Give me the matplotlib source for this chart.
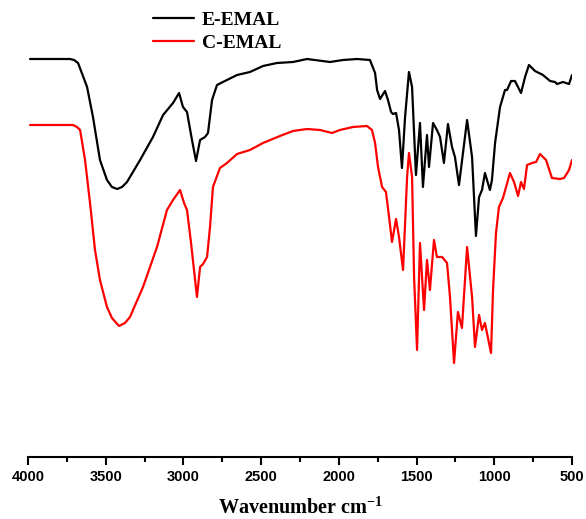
import matplotlib
matplotlib.use("Agg")
import matplotlib.pyplot as plt
from matplotlib.ticker import MultipleLocator

# FTIR spectra, wavenumber (cm-1) vs transmittance (arbitrary units, offset)
e_wn = [3987, 3730, 3704, 3678, 3620, 3582, 3537, 3492, 3460, 3427, 3395, 3363, 3279, 3196, 3131,
        3067, 3028, 3003, 2977, 2945, 2919, 2893, 2861, 2842, 2816, 2784, 2720,
        2655, 2572, 2488, 2398, 2295, 2205, 2057, 1973, 1883, 1800, 1767, 1754,
        1735, 1703, 1684, 1664, 1652, 1632, 1613, 1594, 1574, 1549, 1529, 1516,
        1504, 1478, 1459, 1433, 1420, 1394, 1369, 1349, 1324, 1298, 1272, 1253,
        1227, 1175, 1143, 1118, 1098, 1079, 1060, 1028, 1015, 995, 963, 931,
        918, 892, 867, 828, 802, 777, 738, 687, 641, 609, 596, 558, 519, 500]
e_t = [99.5, 99.5, 99.25, 98.5, 92.5, 85.0, 74.25, 69.25, 67.5, 67.0, 67.5, 68.75, 74.25, 80.0, 85.5,
       88.5, 91.0, 87.5, 86.25, 79.25, 74.0, 79.25, 80.0, 81.0, 89.25, 93.0, 94.25,
       95.5, 96.25, 97.75, 98.5, 98.75, 99.5, 98.75, 99.25, 99.5, 99.25, 96.0, 91.75,
       89.5, 91.5, 89.25, 86.25, 85.75, 86.0, 81.75, 72.25, 85.0, 96.25, 92.5, 81.0,
       70.5, 83.5, 67.5, 80.5, 72.5, 83.5, 81.75, 80.0, 73.5, 83.25, 77.5, 75.0,
       68.0, 84.25, 75.0, 55.25, 65.0, 66.75, 71.0, 66.75, 69.25, 78.5, 87.5, 91.75,
       91.75, 94.0, 94.0, 91.0, 95.0, 98.0, 96.5, 95.5, 94.0, 93.75, 93.25, 93.75, 93.25, 95.5]

c_wn = [3987, 3710, 3685, 3665, 3633, 3601, 3569, 3537, 3492, 3460, 3415, 3376, 3344, 3260, 3170,
        3106, 3067, 3022, 2996, 2977, 2951, 2913, 2893, 2874, 2848, 2829, 2810,
        2765, 2720, 2655, 2572, 2488, 2379, 2295, 2205, 2121, 2044, 1993, 1909,
        1819, 1787, 1767, 1748, 1722, 1697, 1677, 1658, 1632, 1613, 1587, 1561,
        1549, 1529, 1516, 1497, 1478, 1452, 1433, 1414, 1388, 1369, 1336, 1304,
        1285, 1259, 1234, 1208, 1175, 1143, 1124, 1098, 1079, 1060, 1047, 1021,
        1008, 989, 970, 944, 899, 873, 847, 828, 809, 789, 757, 731, 706, 667,
        629, 577, 551, 519, 500]
c_t = [83.0, 83.0, 82.5, 81.75, 74.25, 63.5, 51.75, 44.25, 37.5, 34.75, 32.75, 33.5, 35.0, 42.5, 52.5,
       61.75, 64.25, 66.75, 63.5, 61.75, 53.5, 40.0, 47.5, 48.25, 50.0, 57.5, 67.5,
       72.25, 73.5, 75.75, 76.75, 78.5, 80.25, 81.5, 82.0, 81.75, 81.0, 81.75, 82.5,
       82.75, 81.75, 78.5, 72.5, 67.5, 66.25, 60.0, 53.75, 59.5, 55.0, 46.75, 70.0,
       76.0, 70.0, 45.0, 26.75, 53.5, 36.75, 49.25, 41.75, 54.25, 50.0, 50.0, 48.5,
       40.0, 23.5, 36.25, 32.25, 52.5, 40.0, 27.5, 35.5, 31.75, 33.5, 31.0, 26.0,
       41.75, 56.0, 62.5, 64.75, 71.0, 68.75, 65.25, 68.75, 67.0, 73.0, 73.5, 73.75, 75.75, 74.25,
       69.75, 69.5, 69.75, 71.75, 74.25]

fig = plt.figure(figsize=(5.86, 5.19), dpi=100)
ax = fig.add_axes([0.0478, 0.1195, 0.9283, 0.8805])

ax.plot(e_wn, e_t, color="black", lw=1.6, label="E-EMAL",
        solid_joinstyle="round", solid_capstyle="round")
ax.plot(c_wn, c_t, color="red", lw=1.6, label="C-EMAL",
        solid_joinstyle="round", solid_capstyle="round")

ax.set_xlim(4000, 500)
ax.set_ylim(0, 114.25)

for side in ("left", "right", "top"):
    ax.spines[side].set_visible(False)
ax.spines["bottom"].set_linewidth(1.5)
ax.set_yticks([])

ax.xaxis.set_major_locator(MultipleLocator(500))
ax.xaxis.set_minor_locator(MultipleLocator(250))
ax.tick_params(axis="x", which="major", direction="out", length=6, width=1.5, pad=3.5)
ax.tick_params(axis="x", which="minor", direction="out", length=3.5, width=1.5)
for lab in ax.get_xticklabels():
    lab.set_fontfamily("Liberation Sans")
    lab.set_fontweight("bold")
    lab.set_fontsize(10.5)

ax.set_xlabel("Wavenumber cm$^{\\mathregular{-1}}$", family="Liberation Serif",
              fontweight="bold", fontsize=14.5, labelpad=9)

ax.legend(loc="upper left", bbox_to_anchor=(153 / 586, 1 - 11 / 519),
          bbox_transform=fig.transFigure, frameon=False, borderpad=0,
          borderaxespad=0, handlelength=2.1, handletextpad=0.4, labelspacing=0.3,
          prop={"family": "Liberation Serif", "weight": "bold", "size": 14})

fig.savefig("out.png", dpi=100)
